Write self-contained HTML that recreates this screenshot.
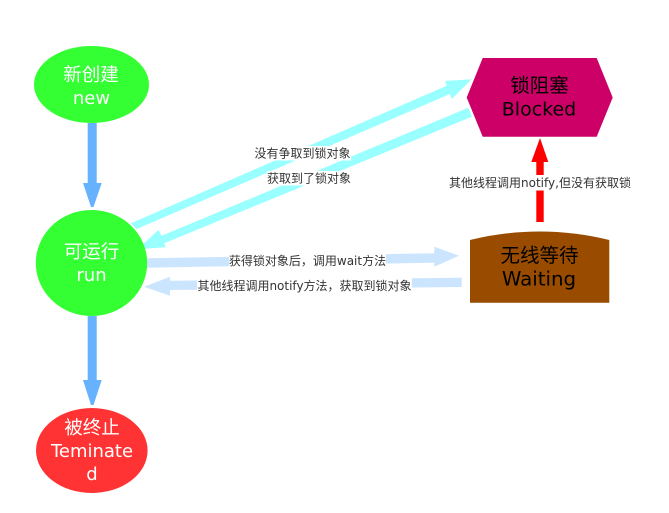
<!DOCTYPE html>
<html>
<head>
<meta charset="utf-8">
<style>
html,body{margin:0;padding:0;background:#fff;width:669px;height:513px;overflow:hidden}
svg{display:block;filter:blur(0.3px)}
text{font-family:"DejaVu Sans","Noto Sans CJK SC",sans-serif;text-anchor:middle}
.n{font-size:18px}
.c{font-size:18.5px}
.k{font-size:19.5px}
.l{font-size:12px;fill:#333}
</style>
</head>
<body>
<svg width="669" height="513" viewBox="0 0 669 513" xmlns="http://www.w3.org/2000/svg">
<rect width="669" height="513" fill="#fff"/>
<!-- arrows -->
<polygon points="87.7,123 96.7,123 96.7,183 101.7,183 93.5,207 91,207 83,183 87.7,183" fill="#66b2ff"/>
<polygon points="87.7,316 96.7,316 96.7,380 101.7,380 93.5,405 91,405 83,380 87.7,380" fill="#66b2ff"/>
<polygon points="536.3,222 543.7,222 543.7,162 548.3,162 540,138 531.3,162 536.3,162" fill="#ff0000"/>
<polygon points="131,223.3 136.7,229 450,94 451.7,99 471.7,79.3 445,81 446.7,85.7" fill="#99ffff"/>
<polygon points="468.3,107.7 471.7,116.7 164.3,243.3 165.7,247.3 137.7,249.3 158.3,230 161.7,235.7" fill="#99ffff"/>
<polygon points="147,258.3 434.3,253.3 434.3,246.7 459,255.7 434.3,266.7 434.3,262.7 147,267.7" fill="#cce5ff"/>
<polygon points="461.7,277.7 461.7,287 170,290 170,295.7 144,286.7 170,276.7 170,280.7" fill="#cce5ff"/>
<!-- nodes -->
<ellipse cx="91.5" cy="84.5" rx="57.5" ry="38.5" fill="#33ff33"/>
<ellipse cx="91.5" cy="263" rx="55.7" ry="53" fill="#33ff33"/>
<ellipse cx="91.8" cy="450.5" rx="55.8" ry="42.5" fill="#ff3333"/>
<polygon points="482.7,58 596.7,58 612.7,97.5 596.7,136.7 482.7,136.7 466.7,97.5" fill="#cc0066"/>
<path d="M470 240 Q540 223 609.3 240 L609.3 302.7 L470 302.7 Z" fill="#994c00"/>
<!-- label backgrounds -->
<rect x="254" y="146" width="97" height="14.5" fill="#fff"/>
<rect x="267" y="171" width="84" height="14.5" fill="#fff"/>
<rect x="229" y="253" width="157" height="15.5" fill="#fff"/>
<rect x="197" y="278" width="215" height="15.5" fill="#fff"/>
<rect x="449" y="175" width="182" height="15.5" fill="#fff"/>
<!-- labels -->
<text class="l" x="302.5" y="157.5">没有争取到锁对象</text>
<text class="l" x="309" y="182.5">获取到了锁对象</text>
<text class="l" x="307.5" y="265">获得锁对象后，调用wait方法</text>
<text class="l" x="304.5" y="290">其他线程调用notify方法，获取到锁对象</text>
<text class="l" x="540" y="187">其他线程调用notify,但没有获取锁</text>
<!-- node text -->
<text class="c" x="91" y="81" fill="#fff">新创建</text>
<text class="n" x="91.5" y="104" fill="#fff">new</text>
<text class="c" x="91.5" y="258" fill="#fff">可运行</text>
<text class="n" x="91.5" y="281" fill="#fff">run</text>
<text class="c" x="92" y="434" fill="#fff">被终止</text>
<text class="n" x="92" y="457" fill="#fff">Teminate</text>
<text class="n" x="92" y="480" fill="#fff">d</text>
<text class="k" x="539.5" y="92" fill="#000">锁阻塞</text>
<text class="k" x="539" y="115.5" fill="#000" style="font-size:19px">Blocked</text>
<text class="k" x="539.5" y="262" fill="#000">无线等待</text>
<text class="k" x="539" y="285.5" fill="#000" style="font-size:19.8px">Waiting</text>
</svg>
</body>
</html>
